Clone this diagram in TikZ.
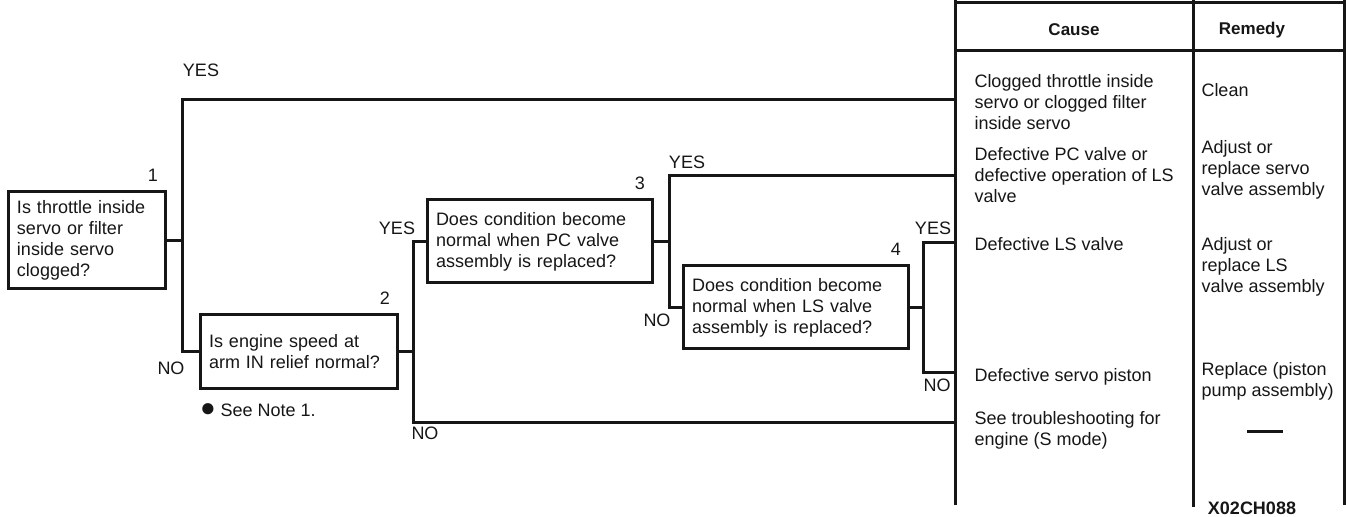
\documentclass[tikz,border=0pt]{standalone}
\usepackage{fontspec}
\setmainfont{Liberation Sans}
\usetikzlibrary{positioning}
\definecolor{ink}{HTML}{161616}

\begin{document}
\begin{tikzpicture}[
    x=0.5pt, y=-0.5pt,
    line width=1.5pt, draw=ink,
    every node/.style={font=\fontsize{9}{10.5}\selectfont, text=ink},
    question/.style={draw=ink, line width=1.5pt, inner xsep=4.5pt, inner ysep=0pt,
      text width=103.5pt, minimum height=41.5pt, align=left},
    tag/.style={inner sep=0pt},
    answer/.style={inner sep=0pt},
    cell/.style={inner sep=0pt, anchor=west, align=left},
    head/.style={inner sep=0pt, font=\fontsize{8.5}{10}\selectfont\bfseries}
  ]
  \useasboundingbox (0,0) rectangle (1346,517);

  \node[question, text width=69.5pt, minimum height=48.5pt] (q1) at (86.5,240.5)
    {Is throttle inside\\servo or filter\\inside servo\\clogged?};
  \node[question, text width=89.5pt, minimum height=37pt] (q2) at (298.5,352)
    {Is engine speed at\\arm IN relief normal?};
  \node[question] (q3) at (539.5,241.5)
    {Does condition become\\normal when PC valve\\assembly is replaced?};
  \node[question] (q4) at (795.5,307.5)
    {Does condition become\\normal when LS valve\\assembly is replaced?};

  \node[tag, above left=3.5pt and 3.5pt of q1.north east] (t1) {1};
  \node[tag, above left=3.5pt and 3.5pt of q2.north east] (t2) {2};
  \node[tag, above left=3.5pt and 3.5pt of q3.north east] (t3) {3};
  \node[tag, above left=3.5pt and 3.5pt of q4.north east] (t4) {4};

  \node[answer, below right=6pt and 0pt of q2.south west] (note)
    {{\fontsize{13}{13}\selectfont●} See Note 1.};

  \coordinate[right=8pt of q1.east] (j1);
  \coordinate[right=7.5pt of q2.east] (j2);
  \coordinate[right=8pt of q3.east] (j3);
  \coordinate[right=7pt of q4.east] (j4);

  \coordinate (c1) at (955,100);
  \coordinate (c2) at (955,176);
  \coordinate (c3) at (955,243);
  \coordinate (c4) at (955,373);
  \coordinate (c5) at (955,423);

  \draw (q1.east) -- (j1);
  \draw (c1) -| (j1 |- q2.west) -- (q2.west);
  \draw (q2.east) -- (j2);
  \draw (q3.west) -| (j2 |- c5) -- (c5);
  \draw (q3.east) -- (j3);
  \draw (c2) -| (j3 |- q4.west) -- (q4.west);
  \draw (q4.east) -- (j4);
  \draw (c3) -| (j4 |- c4) -- (c4);

  \node[answer] (y1) at (201,70) {YES};
  \node[answer] (n1) at (171,368) {NO};
  \node[answer] (y2) at (397,228) {YES};
  \node[answer] (n2) at (425,433) {NO};
  \node[answer] (y3) at (687,162) {YES};
  \node[answer] (n3) at (657,320) {NO};
  \node[answer] (y4) at (933,228) {YES};
  \node[answer] (n4) at (937,385) {NO};

  \draw (955,0) -- (955,505);
  \draw (1193,0) -- (1193,507);
  \draw (1344,0) -- (1344,505);
  \draw (955,3) -- (1345,3);
  \draw (955,51) -- (1344,51);

  \node[head] (cause) at (1074,30) {Cause};
  \node[head] (remedy) at (1252,30) {Remedy};

  \node[cell] (k1) at (973,102) {Clogged throttle inside\\servo or clogged filter\\inside servo};
  \node[cell] (k2) at (973,175) {Defective PC valve or\\defective operation of LS\\valve};
  \node[cell] (k3) at (973,244) {Defective LS valve};
  \node[cell] (k4) at (973,377) {Defective servo piston};
  \node[cell] (k5) at (973,430) {See troubleshooting for\\engine (S mode)};

  \node[cell] (r1) at (1200,90) {Clean};
  \node[cell] (r2) at (1200,170) {Adjust or\\replace servo\\valve assembly};
  \node[cell] (r3) at (1200,267) {Adjust or\\replace LS\\valve assembly};
  \node[cell] (r4) at (1200,381) {Replace (piston\\pump assembly)};
  \draw (1247,432) -- (1283,432);

  \node[answer, font=\fontsize{9}{10.5}\selectfont\bfseries] (code) at (1252,508) {X02CH088};
\end{tikzpicture}
\end{document}
